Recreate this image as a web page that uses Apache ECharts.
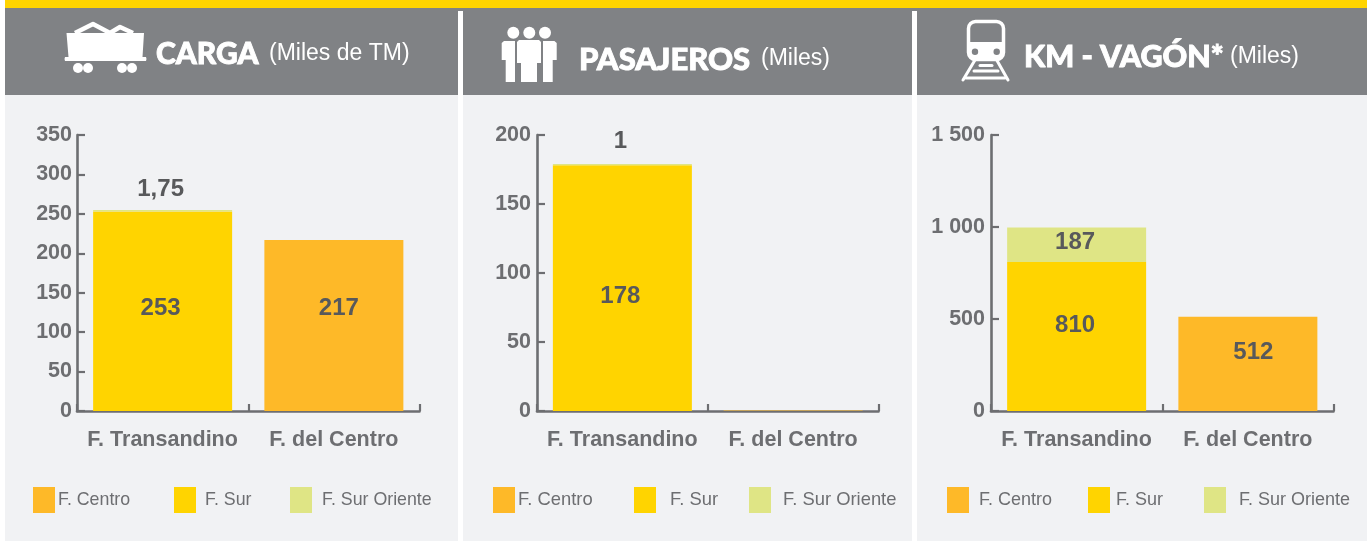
<!DOCTYPE html>
<html><head><meta charset="utf-8">
<style>html,body{margin:0;padding:0;background:#fff}#c{width:1371px;height:541px}</style>
<script src="https://cdn.jsdelivr.net/npm/echarts@6/dist/echarts.min.js"></script>
</head><body><div id="c"></div>
<script>
var categories = ['F. Transandino', 'F. del Centro'];
var seriesNames = ['F. Centro', 'F. Sur', 'F. Sur Oriente'];

var cargaCentro = [null, 217];
var cargaSur = [253, null];
var cargaOriente = [1.75, null];
var cargaMax = 350, cargaStep = 50;

var pasajerosCentro = [null, 0.3];
var pasajerosSur = [178, null];
var pasajerosOriente = [1, null];
var pasajerosMax = 200, pasajerosStep = 50;

var vagonCentro = [null, 512];
var vagonSur = [810, null];
var vagonOriente = [187, null];
var vagonMax = 1500, vagonStep = 500;

var ORANGE = '#feb928', YELLOW = '#ffd400', LIME = '#dfe585';
var colors = [ORANGE, YELLOW, LIME];
var AXIS = '#6d6e71', VALUE = '#58595b', HEAD = '#808285', PANEL = '#f1f2f4';
var SANS = '"Liberation Sans", Arial, sans-serif';

var panels = [
  {x0: 5, x1: 458, gridLeft: 77, gridRight: 419.5, vals: [cargaCentro, cargaSur, cargaOriente], max: cargaMax, step: cargaStep,
   offs: [[[0,0],[5,-17]], [[-2,-3],null], [[-2,-21],null]],
   legend: [33,174,290], pad: [-2,4,5], lfs: 17.8, ym: 5,
   title: 'CARGA', unit: '(Miles de TM)', tx: 156, ux: 269, ty: 39.5, uy: 42, tfs: 30},
  {x0: 463, x1: 912, gridLeft: 537, gridRight: 878.5, vals: [pasajerosCentro, pasajerosSur, pasajerosOriente], max: pasajerosMax, step: pasajerosStep,
   offs: [[null,null], [[-2,8],null], [[-2,-23.5],null]],
   legend: [493,634,749], pad: [-2,9,7], lfs: 18.4, ym: 6,
   title: 'PASAJEROS', unit: '(Miles)', tx: 579, ux: 761, ty: 44.5, uy: 47.5, tfs: 31},
  {x0: 917, x1: 1367, gridLeft: 991, gridRight: 1333.5, vals: [vagonCentro, vagonSur, vagonOriente], max: vagonMax, step: vagonStep,
   offs: [[[0,0],[5.5,-11.5]], [[-1.5,-11],null], [[-1.5,-2],null]],
   legend: [947,1088,1204], pad: [5,1,8], lfs: 18, ym: 6,
   title: 'KM - VAGÓN*', unit: '(Miles)', tx: 1024, ux: 1230, ty: 41.5, uy: 45.5, tfs: 30.5}
];

function fmtAxis(v){ return String(v).replace(/\B(?=(\d{3})+$)/g,' '); }
function fmtVal(v){ return String(v).replace('.',','); }

var grids=[], xAxes=[], yAxes=[], series=[], legends=[], titles=[], gfx=[];

gfx.push({type:'rect', z:-5, shape:{x:5,y:0,width:1362,height:8}, style:{fill:YELLOW}});
gfx.push({type:'rect', z:-5, shape:{x:5,y:8,width:1362,height:3}, style:{fill:HEAD}});

panels.forEach(function(p,i){
  gfx.push({type:'rect', z:-5, shape:{x:p.x0,y:8,width:p.x1-p.x0,height:87}, style:{fill:HEAD}});
  gfx.push({type:'rect', z:-5, shape:{x:p.x0,y:95,width:p.x1-p.x0,height:446}, style:{fill:PANEL}});

  grids.push({left:p.gridLeft, top:135, width:p.gridRight-p.gridLeft, height:276});
  xAxes.push({type:'category', gridIndex:i, data:categories,
    axisLine:{lineStyle:{color:AXIS,width:2.6}},
    axisTick:{show:true,inside:true,length:7,alignWithLabel:false,lineStyle:{color:AXIS,width:2.2}},
    axisLabel:{color:AXIS,fontFamily:SANS,fontWeight:'bold',fontSize:21.5,margin:18.5,interval:0}});
  yAxes.push({type:'value', gridIndex:i, min:0, max:p.max, interval:p.step, splitLine:{show:false},
    axisLine:{show:true,lineStyle:{color:AXIS,width:2.6}},
    axisTick:{show:true,inside:true,length:8,lineStyle:{color:AXIS,width:2.2}},
    axisLabel:{color:AXIS,fontFamily:SANS,fontWeight:'bold',fontSize:21.5,margin:p.ym,padding:[2,0,0,0],formatter:fmtAxis}});

  seriesNames.forEach(function(n,k){
    series.push({type:'bar', name:n, stack:'t'+i, xAxisIndex:i, yAxisIndex:i, barWidth:139,
      itemStyle:{color:colors[k]}, animation:false,
      data:p.vals[k].map(function(v,c){
        var o=p.offs[k][c];
        if(v===null) return {value:null};
        return {value:v, label:o?{show:true,position:'inside',offset:o,color:VALUE,fontFamily:SANS,fontWeight:'bold',fontSize:24,formatter:function(a){return fmtVal(a.value);}}:{show:false}};
      })});
    legends.push({data:[n], left:p.legend[k], top:487, padding:0, icon:'rect', itemWidth:22, itemHeight:26,
      selectedMode:false,
      textStyle:{color:AXIS,fontFamily:SANS,fontSize:p.lfs,padding:[0,0,0,p.pad[k]]}});
  });

  titles.push({text:p.title,left:p.tx,top:p.ty,padding:0,textStyle:{color:'#fff',fontFamily:'Lato',fontWeight:900,fontSize:p.tfs,textBorderColor:'#fff',textBorderWidth:0.9}});
  titles.push({text:p.unit,left:p.ux,top:p.uy,padding:0,textStyle:{color:'#fff',fontFamily:SANS,fontWeight:'normal',fontSize:23}});
});

// header icons
function poly(pts){ return {type:'polygon',z:5,shape:{points:pts},style:{fill:'#fff'}}; }
function circ(cx,cy,r,fill){ return {type:'circle',z:6,shape:{cx:cx,cy:cy,r:r},style:{fill:fill||'#fff'}}; }
// wagon
gfx.push(poly([[66.5,33],[144,33],[142.5,57],[146,57],[146.5,59],[146,61],[65,61],[64.5,59],[65,57],[68.5,57]]));
gfx.push({type:'polyline',z:5,shape:{points:[[75,33],[93,24],[110,33],[120,27],[133,33]]},style:{stroke:'#fff',lineWidth:4.5,fill:null,lineJoin:'round'}});
[78,88,122,132].forEach(function(x){ gfx.push(circ(x,68,5)); });
// people
[513.3,529.3,545].forEach(function(x){ gfx.push(circ(x,32.7,6)); });
gfx.push(poly([[519,40],[539,40],[541,42],[541,63],[537,63],[537,82],[521,82],[521,63],[517,63],[517,42]]));
gfx.push(poly([[504,41],[515,41],[515,82],[505.7,82],[505.7,60],[501.7,60],[501.7,43]]));
gfx.push(poly([[543,41],[554.4,41],[556.7,43],[556.7,60],[552.7,60],[552.7,82],[543,82]]));
// train
gfx.push({type:'rect',z:5,shape:{x:968.5,y:21.5,width:35,height:38,r:7},style:{fill:null,stroke:'#fff',lineWidth:3.5}});
gfx.push(poly([[968,42],[1004,42],[1004,55],[999,60],[973,60],[968,55]]));
gfx.push(circ(975,51.7,3.2,HEAD)); gfx.push(circ(996.7,51.7,3.2,HEAD));
[[[975,60],[963,80]],[[996.7,60],[1008,80]],[[980,65.5],[992,65.5]],[[974,71],[998,71]],[[966,78],[1005,78]]].forEach(function(s){
  gfx.push({type:'line',z:5,shape:{x1:s[0][0],y1:s[0][1],x2:s[1][0],y2:s[1][1]},style:{stroke:'#fff',lineWidth:3,lineCap:'round'}});
});

var chart = echarts.init(document.getElementById('c'),null,{renderer:'canvas'});
chart.setOption({animation:false, backgroundColor:'#fff', title:titles, legend:legends, grid:grids, xAxis:xAxes, yAxis:yAxes, series:series, graphic:{elements:gfx}});
</script></body></html>
